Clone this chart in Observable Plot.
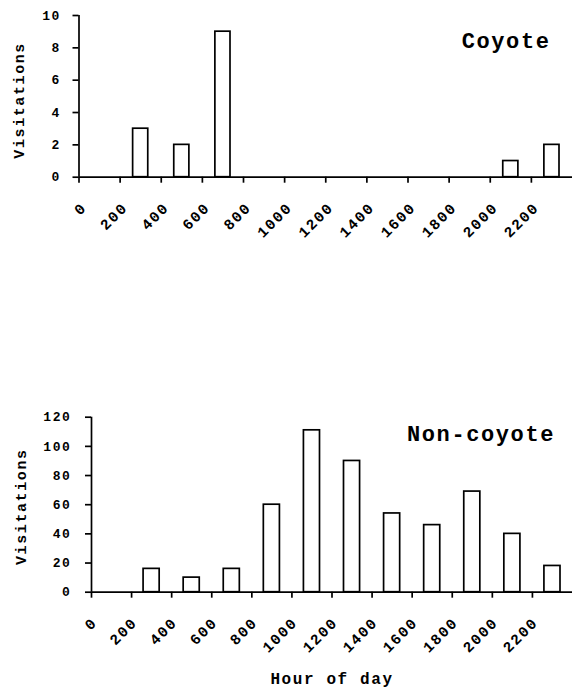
<!DOCTYPE html>
<html>
<head>
<meta charset="utf-8">
<script src="https://cdn.jsdelivr.net/npm/d3@7"></script>
<script src="https://cdn.jsdelivr.net/npm/@observablehq/plot@0.6"></script>
<style>
  html, body { margin: 0; padding: 0; background: #fff; }
  #wrap { position: relative; width: 572px; height: 692px; overflow: hidden; }
  #top { position: absolute; left: 0; top: 0; }
  #bottom { position: absolute; left: 0; top: 400px; }
  svg text { letter-spacing: 1.6px; }
</style>
</head>
<body>
<div id="wrap"><div id="top"></div><div id="bottom"></div></div>
<script>
// Hour bins (centre of each 200-hour bin)
const hours = [100, 300, 500, 700, 900, 1100, 1300, 1500, 1700, 1900, 2100, 2300];
// Coyote visitations per bin
const coyoteCounts = [0, 3, 2, 9, 0, 0, 0, 0, 0, 0, 1, 2];
// Non-coyote visitations per bin
const nonCoyoteCounts = [0, 16, 10, 16, 60, 111, 90, 54, 46, 69, 40, 18];
// Tick values
const hourTicks = [0, 200, 400, 600, 800, 1000, 1200, 1400, 1600, 1800, 2000, 2200];
const coyoteYTicks = [0, 2, 4, 6, 8, 10];
const nonCoyoteYTicks = [0, 20, 40, 60, 80, 100, 120];
// Texts
const yTitle = "Visitations";
const xTitle = "Hour of day";
const coyoteTitle = "Coyote";
const nonCoyoteTitle = "Non-coyote";

const coyoteData = hours.map((h, i) => ({hour: h, count: coyoteCounts[i]}));
const nonCoyoteData = hours.map((h, i) => ({hour: h, count: nonCoyoteCounts[i]}));

const font = {fontFamily: "'Liberation Mono', 'DejaVu Sans Mono', monospace", fontSize: "13px", fontWeight: "bold", background: "#fff", color: "#000", overflow: "visible"};

function panel({data, yDomain, yTicks, title, height, marginTop, marginBottom, marginLeft, inset, titleDx, titleDy, yTitleDx, yTitleDy, tickPadY, xLabDx, xLabDy, withX}) {
  const marks = [
    Plot.rectY(data, {x: "hour", y: "count", interval: 200, fill: "white", stroke: "black", strokeWidth: 1.7, insetLeft: inset, insetRight: inset}),
    Plot.ruleY([0], {stroke: "black", strokeWidth: 1.7}),
    Plot.ruleX([0], {stroke: "black", strokeWidth: 1.7}),
    Plot.axisY({ticks: yTicks, tickSize: 6, tickPadding: tickPadY, strokeWidth: 1.7, label: null, tickFormat: d => String(d)}),
    Plot.axisX({ticks: hourTicks, tickSize: 6, text: null, strokeWidth: 1.7, label: null}),
    Plot.axisX({ticks: hourTicks, tickSize: 0, tickRotate: -45, tickPadding: 6, dx: xLabDx, dy: xLabDy, fontSize: 15, label: null, tickFormat: d => String(d)}),
    Plot.text([title], {text: d => d, frameAnchor: "top-right", textAnchor: "end", dx: titleDx, dy: titleDy, fontSize: 22}),
    Plot.text([yTitle], {text: d => d, frameAnchor: "left", textAnchor: "middle", rotate: -90, dx: yTitleDx, dy: yTitleDy, fontSize: 15})
  ];
  if (withX) {
    marks.push(Plot.text([xTitle], {text: d => d, frameAnchor: "bottom", dy: withX, fontSize: 16}));
  }
  return Plot.plot({
    width: 572,
    height,
    marginTop,
    marginBottom,
    marginLeft,
    marginRight: 0,
    style: font,
    x: {domain: [0, 2400], axis: null},
    y: {domain: yDomain, axis: null},
    marks
  });
}

document.getElementById("top").append(panel({
  data: coyoteData, yDomain: [0, 10], yTicks: coyoteYTicks, title: coyoteTitle,
  height: 240, marginTop: 15, marginBottom: 63.3, marginLeft: 78.5, inset: 13,
  titleDx: -22, titleDy: 17, yTitleDx: -59.5, yTitleDy: 4, tickPadY: 12, xLabDx: 5, xLabDy: 22, withX: 0
}));

document.getElementById("bottom").append(panel({
  data: nonCoyoteData, yDomain: [0, 120], yTicks: nonCoyoteYTicks, title: nonCoyoteTitle,
  height: 292, marginTop: 16.7, marginBottom: 100.3, marginLeft: 91, inset: 12,
  titleDx: -17.5, titleDy: 8.3, yTitleDx: -70.3, yTitleDy: 2, tickPadY: 14, xLabDx: 3, xLabDy: 22, withX: 91.6
}));
</script>
</body>
</html>
